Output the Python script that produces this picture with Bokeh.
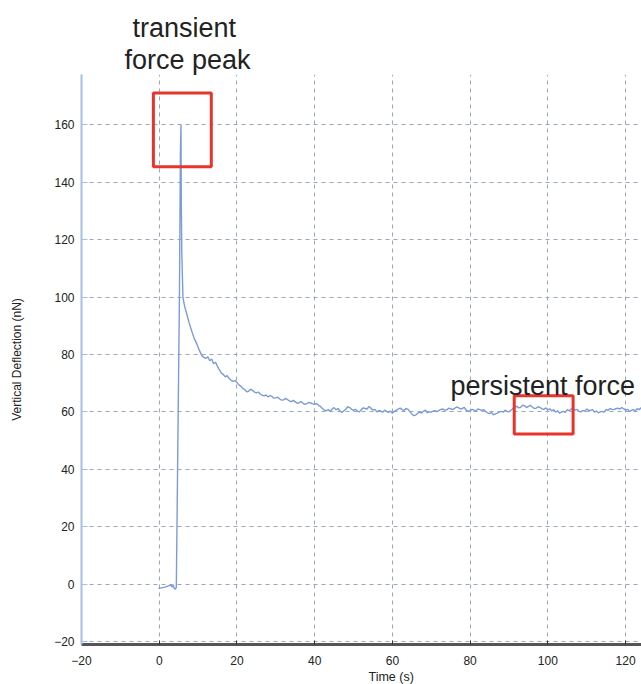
from bokeh.plotting import figure
from bokeh.models import Range1d, Label, FixedTicker, Title
from bokeh.embed import file_html
from bokeh.resources import INLINE

# ---- data ----
# baseline, jump and early decay
rise_time_s = [-0.2, 0.5, 1.5, 2.5, 3.0, 3.3, 3.6, 3.9, 4.2, 4.4, 5.2, 5.45, 5.6, 5.65, 5.7, 5.8,
               6.0, 6.1, 6.5, 7.1, 7.7, 8.4, 9.0, 9.7, 10.3, 11.0, 11.5]
rise_defl_nN = [-1.5, -1.3, -1.0, -0.5, -0.3, -1.0, -0.4, -1.6, -1.7, -1.0, 100, 150, 160, 140, 131, 116,
                105.6, 100, 97, 94, 91, 88, 85.6, 83.6, 81.5, 79.5, 79.0]

# slow relaxation toward the persistent force (0.5 s steps)
tail_time_s = [
    12, 12.5, 13, 13.5, 14, 14.5, 15, 15.5, 16, 16.5, 17, 17.5, 18, 18.5, 19, 19.5, 20, 20.5, 21, 21.5,
    22, 22.5, 23, 23.5, 24, 24.5, 25, 25.5, 26, 26.5, 27, 27.5, 28, 28.5, 29, 29.5, 30, 30.5, 31, 31.5,
    32, 32.5, 33, 33.5, 34, 34.5, 35, 35.5, 36, 36.5, 37, 37.5, 38, 38.5, 39, 39.5, 40, 40.5, 41, 41.5,
    42, 42.5, 43, 43.5, 44, 44.5, 45, 45.5, 46, 46.5, 47, 47.5, 48, 48.5, 49, 49.5, 50, 50.5, 51, 51.5,
    52, 52.5, 53, 53.5, 54, 54.5, 55, 55.5, 56, 56.5, 57, 57.5, 58, 58.5, 59, 59.5, 60, 60.5, 61, 61.5,
    62, 62.5, 63, 63.5, 64, 64.5, 65, 65.5, 66, 66.5, 67, 67.5, 68, 68.5, 69, 69.5, 70, 70.5, 71, 71.5,
    72, 72.5, 73, 73.5, 74, 74.5, 75, 75.5, 76, 76.5, 77, 77.5, 78, 78.5, 79, 79.5, 80, 80.5, 81, 81.5,
    82, 82.5, 83, 83.5, 84, 84.5, 85, 85.5, 86, 86.5, 87, 87.5, 88, 88.5, 89, 89.5, 90, 90.5, 91, 91.5,
    92, 92.5, 93, 93.5, 94, 94.5, 95, 95.5, 96, 96.5, 97, 97.5, 98, 98.5, 99, 99.5, 100, 100.5, 101, 101.5,
    102, 102.5, 103, 103.5, 104, 104.5, 105, 105.5, 106, 106.5, 107, 107.5, 108, 108.5, 109, 109.5, 110, 110.5, 111, 111.5,
    112, 112.5, 113, 113.5, 114, 114.5, 115, 115.5, 116, 116.5, 117, 117.5, 118, 118.5, 119, 119.5, 120, 120.5, 121, 121.5,
    122, 122.5, 123, 123.5, 124, 124.5, 125]
tail_defl_nN = [
    78.6, 79.2, 77.8, 78.4, 76.8, 77.3, 75.8, 74.6, 73.5, 73.0, 72.2, 72.6, 71.6, 71.0, 70.6, 70.9, 70.2, 69.4, 69.0, 68.2,
    67.8, 67.0, 67.2, 67.9, 67.5, 66.9, 66.6, 66.9, 66.2, 65.8, 65.6, 65.9, 65.2, 65.7, 65.4, 64.8, 64.9, 65.1, 64.5, 64.1,
    64.2, 64.7, 64.3, 63.8, 63.6, 64.0, 63.5, 63.0, 63.2, 63.6, 63.0, 62.6, 62.9, 63.3, 63.1, 62.8, 62.6, 62.9, 62.3, 61.9,
    61.2, 60.6, 60.4, 60.8, 60.2, 61.0, 61.5, 60.7, 61.2, 60.3, 59.8, 60.4, 60.9, 61.8, 61.5, 60.9, 60.5, 60.9, 60.3, 60.0,
    60.8, 61.4, 61.2, 61.0, 61.9, 61.3, 60.6, 60.9, 60.0, 60.5, 60.3, 59.9, 60.6, 60.2, 59.8, 60.3, 59.5, 60.2, 60.6, 61.0,
    61.3, 60.8, 60.5, 61.2, 60.9, 60.1, 59.3, 58.7, 58.9, 59.5, 59.9, 59.6, 60.2, 60.6, 59.7, 60.1, 59.9, 60.3, 60.4, 60.1,
    60.5, 60.9, 61.0, 60.6, 60.7, 61.3, 61.1, 60.8, 61.2, 61.7, 61.5, 61.0, 61.2, 61.6, 60.6, 60.2, 60.4, 60.9, 60.6, 60.3,
    61.0, 60.8, 60.5, 60.8, 60.1, 59.7, 59.4, 59.8, 59.0, 59.3, 59.6, 60.0, 60.2, 59.9, 60.6, 60.2, 60.0, 60.6, 61.2, 61.6,
    62.0, 61.4, 61.6, 62.3, 62.2, 61.5, 61.9, 62.3, 61.7, 61.2, 61.3, 61.8, 61.6, 61.0, 60.9, 61.4, 60.7, 61.1, 60.3, 60.8,
    59.9, 60.4, 59.6, 59.9, 60.2, 59.8, 60.8, 60.4, 61.0, 61.3, 60.6, 60.9, 60.2, 60.0, 60.5, 60.2, 61.0, 60.6, 60.5, 60.8,
    59.9, 60.3, 59.7, 60.0, 60.2, 59.9, 60.9, 60.5, 61.2, 60.9, 60.8, 61.1, 61.3, 61.0, 61.5, 61.1, 60.6, 60.9, 60.1, 60.5,
    60.8, 60.4, 61.1, 60.8, 61.4, 61.0, 60.9]

time_s = rise_time_s + tail_time_s
deflection_nN = rise_defl_nN + tail_defl_nN

x_ticks = [-20, 0, 20, 40, 60, 80, 100, 120]
y_ticks = [-20, 0, 20, 40, 60, 80, 100, 120, 140, 160]

# highlight boxes: [left, right, bottom, top]
peak_box = [-1.5, 13.4, 145.4, 171.1]
persist_box = [91.35, 106.5, 52.3, 65.6]

p = figure(width=641, height=684, output_backend="svg", toolbar_location=None,
           x_range=Range1d(-20, 124.1), y_range=Range1d(-21.0, 177.5),
           min_border_left=81, min_border_top=74, min_border_right=0, min_border_bottom=40)
p.outline_line_color = None
p.background_fill_color = "white"

p.line(time_s, deflection_nN, line_color="#7c9bd9", line_width=1.4)

p.quad(left=[peak_box[0], persist_box[0]], right=[peak_box[1], persist_box[1]],
       bottom=[peak_box[2], persist_box[2]], top=[peak_box[3], persist_box[3]],
       fill_color=None, line_color="#e8342b", line_width=3)

font = "Liberation Sans"
# grids
for g in (p.xgrid, p.ygrid):
    g.grid_line_color = "#9ba7ba"
    g.grid_line_dash = "4 4"
    g.grid_line_width = 1
p.xaxis.ticker = FixedTicker(ticks=x_ticks)
p.yaxis.ticker = FixedTicker(ticks=y_ticks)
p.xgrid.ticker = FixedTicker(ticks=x_ticks)
p.ygrid.ticker = FixedTicker(ticks=y_ticks)

# x axis
xa = p.xaxis[0]
xa.axis_line_color = "#555555"
xa.axis_line_width = 3
xa.major_tick_line_color = "#333333"
xa.major_tick_in = 4
xa.major_tick_out = 0
xa.minor_tick_line_color = None
xa.major_label_text_font = font
xa.major_label_text_font_size = "12px"
xa.major_label_text_color = "#222222"
xa.major_label_standoff = 11

# y axis
ya = p.yaxis[0]
ya.axis_line_color = "#a6bde6"
ya.axis_line_width = 2
ya.major_tick_line_color = "#a6bde6"
ya.major_tick_in = 6
ya.major_tick_out = 0
ya.minor_tick_line_color = None
ya.major_label_text_font = font
ya.major_label_text_font_size = "12px"
ya.major_label_text_color = "#222222"
ya.major_label_standoff = 7
ya.axis_label = "Vertical Deflection (nN)"
ya.axis_label_text_font = font
ya.axis_label_text_font_size = "12px"
ya.axis_label_text_font_style = "normal"
ya.axis_label_text_color = "#222222"
ya.axis_label_standoff = 27

# texts outside the frame as titles
p.add_layout(Title(text="Time (s)", align="left", offset=287, standoff=0,
                   text_font=font, text_font_size="12.5px", text_font_style="normal",
                   text_color="#222222"), "below")
p.add_layout(Title(text="force peak", align="left", offset=43, standoff=0,
                   text_font=font, text_font_size="27px", text_font_style="normal",
                   text_color="#222222"), "above")
p.add_layout(Title(text="transient", align="left", offset=51, standoff=0,
                   text_font=font, text_font_size="27px", text_font_style="normal",
                   text_color="#222222"), "above")

# in-frame annotation
p.add_layout(Label(x=98.7, y=69.1, text="persistent force", text_align="center", text_baseline="alphabetic",
                   text_font=font, text_font_size="27px", text_color="#222222"))

open("out.html", "w").write(file_html(p, INLINE))
